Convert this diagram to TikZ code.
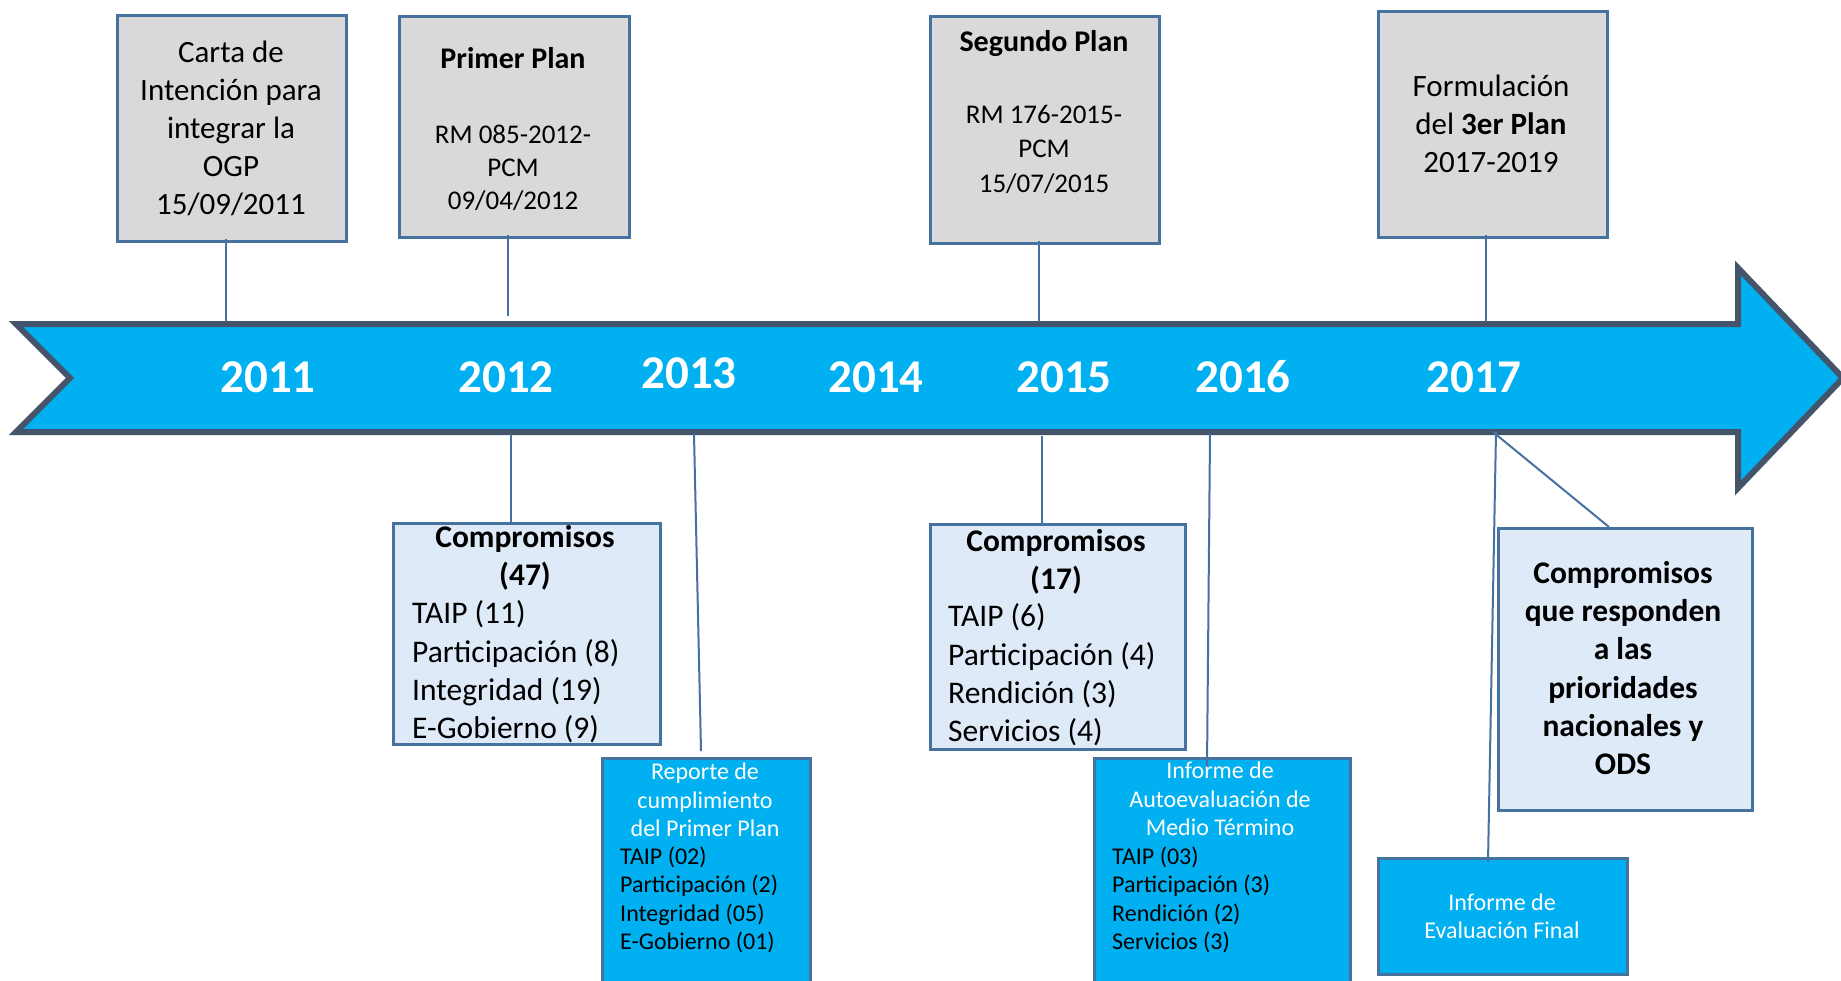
\documentclass[tikz,border=0pt]{standalone}
\usepackage{fontspec}
\setmainfont{Carlito}
\usetikzlibrary{calc}
\definecolor{cyanf}{RGB}{0,176,240}
\definecolor{bandb}{RGB}{68,84,106}
\definecolor{boxb}{RGB}{70,114,160}
\definecolor{linec}{RGB}{70,114,160}
\definecolor{grayf}{RGB}{217,217,217}
\definecolor{lightf}{RGB}{222,234,247}
\begin{document}
\begin{tikzpicture}[x=1pt,y=-1pt,
  boxbase/.style={draw=boxb, line width=2.5pt, inner sep=0pt, anchor=north west},
  graybox/.style={boxbase, fill=grayf},
  lightbox/.style={boxbase, fill=lightf},
  cyanbox/.style={boxbase, fill=cyanf},
  conn/.style={draw=linec, line width=2pt},
  txt/.style={inner sep=0pt, align=center, text=black},
  lst/.style={inner sep=0pt, align=left, anchor=west, text=black},
  fbig/.style={font=\fontsize{31}{38}\selectfont},
  fmid/.style={font=\fontsize{27}{33}\selectfont},
  fsmall/.style={font=\fontsize{24}{28.5}\selectfont},
  flist/.style={font=\fontsize{31.5}{38.3}\selectfont},
  fboldlist/.style={font=\bfseries\fontsize{31.5}{38.3}\selectfont},
  year/.style={inner sep=0pt, text=white, font=\bfseries\fontsize{47}{50}\selectfont},
  band/.style={draw=bandb, fill=cyanf, line width=6pt}
]
\useasboundingbox (0,0) rectangle (1841,980);
\fill[white] (0,0) rectangle (1841,980);

% timeline arrow
\draw[band] (16,324) -- (1738,324) -- (1738,268) -- (1843,378) -- (1738,488)
  -- (1738,432) -- (16,432) -- (70,378) -- cycle;

% years
\node[year] (y11) at (268,377) {2011};
\node[year] (y12) at (506,377) {2012};
\node[year] (y13) at (689,373) {2013};
\node[year] (y14) at (876,377) {2014};
\node[year] (y15) at (1064,377) {2015};
\node[year] (y16) at (1243,377) {2016};
\node[year] (y17) at (1474,377) {2017};

% upper boxes
\node[graybox, minimum width=229pt, minimum height=226pt] (carta) at (116,14) {};
\node[graybox, minimum width=230pt, minimum height=221pt] (primer) at (398,15) {};
\node[graybox, minimum width=229pt, minimum height=227pt] (segundo) at (929,15) {};
\node[graybox, minimum width=229pt, minimum height=226pt] (formul) at (1377,10) {};

% lower boxes
\node[lightbox, minimum width=267pt, minimum height=221pt] (comp47) at (392,522) {};
\node[lightbox, minimum width=255pt, minimum height=225pt] (comp17) at (929,523) {};
\node[lightbox, minimum width=254pt, minimum height=282pt] (ods) at (1497,527) {};
\node[cyanbox, minimum width=208pt, minimum height=240pt] (reporte) at (601,757) {};
\node[cyanbox, minimum width=256pt, minimum height=240pt] (informe) at (1093,757) {};
\node[cyanbox, minimum width=249pt, minimum height=116pt] (final) at (1377,857) {};

% band anchor points
\coordinate (b1) at (226,322);
\coordinate (b2) at (508,316);
\coordinate (b3) at (1039,322);
\coordinate (b4) at (1486,322);
\coordinate (b5) at (511,434);
\coordinate (b6) at (694,434);
\coordinate (b7) at (1042,436);
\coordinate (b8) at (1210,434);
\coordinate (b9) at (1493,432);
\coordinate (b10) at (1496,432);

% connectors
\draw[conn] ([yshift=4pt]carta.south -| b1) -- (b1);
\draw[conn] ([yshift=4pt]primer.south -| b2) -- (b2);
\draw[conn] ([yshift=4pt]segundo.south -| b3) -- (b3);
\draw[conn] ([yshift=4pt]formul.south -| b4) -- (b4);
\draw[conn] (b5) -- (comp47.north -| b5);
\draw[conn] (b6) -- ([xshift=100pt,yshift=6pt]reporte.north west);
\draw[conn] (b7) -- (comp17.north -| b7);
\draw[conn] (b8) -- ([xshift=114pt,yshift=-10pt]informe.north west);
\draw[conn] (b9) -- ([xshift=112pt]ods.north west);
\draw[conn] (b10) -- ([xshift=111pt,yshift=-5pt]final.north west);

% texts of upper boxes
\node[txt,fbig] (cartaT) at (231,128) {Carta de\\Intención para\\integrar la\\OGP\\15/09/2011};
\node[txt,fmid] (primerT) at (513,129) {{\bfseries\fontsize{30}{33}\selectfont Primer Plan}\\[42pt]RM 085-2012-\\PCM\\09/04/2012};
\node[txt,font=\fontsize{27}{34.5}\selectfont] (segundoT) at (1044,112) {{\bfseries\fontsize{30}{34.5}\selectfont Segundo Plan}\\[37pt]RM 176-2015-\\PCM\\15/07/2015};
\node[txt,fbig] (formulT) at (1491,124) {Formulación\\del \textbf{3er Plan}\\2017-2019};

% texts of lower boxes
\node[txt,fboldlist] (comp47H) at (525,558) {Compromisos\\(47)};
\node[lst,flist] (comp47L) at (412,672) {TAIP (11)\\Participación (8)\\Integridad (19)\\E-Gobierno (9)};
\node[txt,fboldlist] (comp17H) at (1056,562) {Compromisos\\(17)};
\node[lst,flist] (comp17L) at (948,675) {TAIP (6)\\Participación (4)\\Rendición (3)\\Servicios (4)};
\node[txt,fboldlist] (odsT) at (1623,668) {Compromisos\\que responden\\a las\\prioridades\\nacionales y\\ODS};

\node[txt,fsmall,text=white] (reporteT) at (705,800) {Reporte de\\cumplimiento\\del Primer Plan};
\node[lst,fsmall] (reporteL) at (620,900) {TAIP (02)\\Participación (2)\\Integridad (05)\\E-Gobierno (01)};
\node[txt,fsmall,text=white] (informeT) at (1220,799) {Informe de\\Autoevaluación de\\Medio Término};
\node[lst,fsmall] (informeL) at (1112,900) {TAIP (03)\\Participación (3)\\Rendición (2)\\Servicios (3)};
\node[txt,fsmall,text=white] (finalT) at (1502,916) {Informe de\\Evaluación Final};
\end{tikzpicture}
\end{document}
